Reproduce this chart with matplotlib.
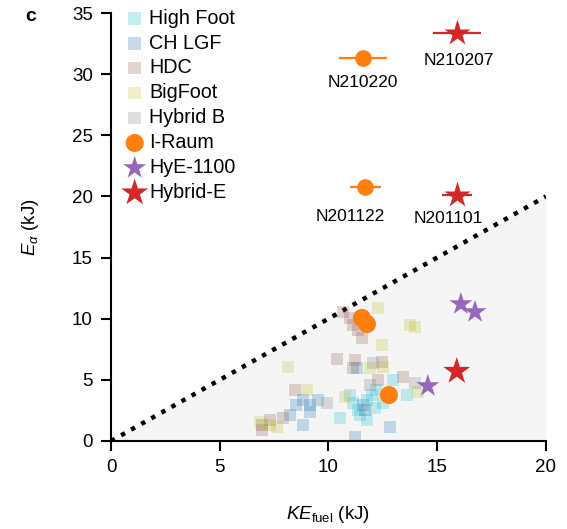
import matplotlib
matplotlib.use("Agg")
import matplotlib.pyplot as plt
import numpy as np

plt.rcParams['font.family'] = ['Liberation Sans', 'DejaVu Sans']
plt.rcParams['mathtext.fontset'] = 'custom'
plt.rcParams['mathtext.rm'] = 'Liberation Sans'
plt.rcParams['mathtext.it'] = 'Liberation Sans:italic'
plt.rcParams['mathtext.bf'] = 'Liberation Sans:bold'

# Earlier campaigns (KE_fuel, E_alpha) in kJ
highfoot_x = [10.53, 11.13, 11.36, 11.77, 12.18, 12.51, 11.77, 12.97, 13.61, 11.0, 11.45, 12.0, 12.14]
highfoot_y = [1.88, 3.11, 2.53, 3.35, 4.17, 3.11, 1.72, 4.99, 3.76, 3.76, 2.13, 3.76, 2.70]

chlgf_x = [8.83, 9.15, 9.52, 8.51, 9.15, 8.83, 8.23, 11.22, 12.83, 11.31, 11.59, 11.68]
chlgf_y = [3.35, 2.94, 3.35, 2.94, 2.37, 1.31, 2.13, 0.33, 1.14, 5.97, 2.94, 2.53]

hdc_x = [10.67, 10.99, 11.13, 11.36, 11.54, 10.39, 11.22, 11.13, 12.46, 13.43, 8.46, 7.91, 7.31, 6.94, 6.94, 12.28]
hdc_y = [10.55, 10.06, 9.48, 9.08, 8.42, 6.70, 6.62, 5.97, 6.46, 5.23, 4.17, 1.88, 1.72, 1.31, 0.90, 4.99]

bigfoot_x = [12.28, 13.75, 13.98, 12.46, 8.14, 11.91, 12.51, 9.01, 10.76, 7.63, 6.85, 14.11, 7.31]
bigfoot_y = [10.87, 9.48, 9.32, 7.85, 6.05, 5.97, 6.05, 4.17, 3.60, 1.14, 1.55, 4.00, 1.31]

hybridb_x = [9.93, 12.05, 13.98, 11.91]
hybridb_y = [3.11, 6.38, 4.74, 4.58]

# Recent shots
iraum_x = [11.54, 11.77, 12.78]
iraum_y = [10.06, 9.57, 3.76]

hye1100_x = [16.09, 16.74, 14.57]
hye1100_y = [11.2, 10.55, 4.5]

hybride_x = [15.9]
hybride_y = [5.7]

# Named shots with horizontal uncertainty
named_shots = ['N210220', 'N210207', 'N201122', 'N201101']
named_design = ['I-Raum', 'Hybrid-E', 'I-Raum', 'Hybrid-E']
named_x = [11.6, 15.9, 11.7, 15.9]
named_y = [31.3, 33.4, 20.8, 20.1]
named_xerr = [1.1, 1.1, 0.7, 0.7]

c_hf, c_ch, c_hdc, c_bf, c_hb = '#17becf', '#1f77b4', '#8c564b', '#bcbd22', '#7f7f7f'
c_ir, c_hye, c_he = '#ff7f0e', '#9467bd', '#d62728'

fig = plt.figure(figsize=(5.67, 5.29), dpi=100)
ax = fig.add_axes([0.1958, 0.1664, 0.767, 0.809])

# Region below E_alpha = KE_fuel
xs = np.array([0, 20])
ax.fill_between(xs, 0, xs, color='#f5f5f5', zorder=0, lw=0)
ax.plot(xs, xs, color='black', ls=(0, (1, 1.6)), lw=3.2, zorder=1)

sq = dict(marker='s', s=80, alpha=0.25, edgecolors='none', zorder=2)
ax.scatter(highfoot_x, highfoot_y, color=c_hf, label='High Foot', **sq)
ax.scatter(chlgf_x, chlgf_y, color=c_ch, label='CH LGF', **sq)
ax.scatter(hdc_x, hdc_y, color=c_hdc, label='HDC', **sq)
ax.scatter(bigfoot_x, bigfoot_y, color=c_bf, label='BigFoot', **sq)
ax.scatter(hybridb_x, hybridb_y, color=c_hb, label='Hybrid B', **sq)
ax.scatter(iraum_x, iraum_y, color=c_ir, marker='o', s=170, edgecolors='none', label='I-Raum', zorder=4)
ax.scatter(hye1100_x, hye1100_y, color=c_hye, marker='*', s=300, edgecolors='none', label='HyE-1100', zorder=4)
ax.scatter(hybride_x, hybride_y, color=c_he, marker='*', s=420, edgecolors='none', label='Hybrid-E', zorder=4)

for name, design, x, y, xe in zip(named_shots, named_design, named_x, named_y, named_xerr):
    if design == 'I-Raum':
        col, mk, ms = c_ir, 'o', 12
    else:
        col, mk, ms = c_he, '*', 20
    ax.errorbar([x], [y], xerr=[xe], color=col, marker=mk, ms=ms, mec='none',
                lw=1.6, capsize=0, zorder=5)

lab_fs = 12.5
ax.text(11.6, 29.9, 'N210220', ha='center', va='top', fontsize=lab_fs)
ax.text(16.0, 31.7, 'N210207', ha='center', va='top', fontsize=lab_fs)
ax.text(11.0, 19.0, 'N201122', ha='center', va='top', fontsize=lab_fs)
ax.text(15.5, 18.8, 'N201101', ha='center', va='top', fontsize=lab_fs)

ax.set_xlim(0, 20)
ax.set_ylim(0, 35)
ax.set_xticks([0, 5, 10, 15, 20])
ax.set_yticks([0, 5, 10, 15, 20, 25, 30, 35])
ax.spines['top'].set_visible(False)
ax.spines['right'].set_visible(False)
for s in ('left', 'bottom'):
    ax.spines[s].set_linewidth(1.5)
ax.tick_params(direction='out', length=7, width=1.5, labelsize=13.5, pad=6)

ax.set_xlabel(r'$KE_{\mathrm{fuel}}$ (kJ)', fontsize=13.5, labelpad=20)
ax.set_ylabel(r'$E_{\alpha}$ (kJ)', fontsize=13.5, labelpad=22)

leg = ax.legend(loc='upper left', bbox_to_anchor=(0.0, 1.038), frameon=False, fontsize=14.2,
                handletextpad=0.15, labelspacing=0.3, borderaxespad=0.2, handlelength=1.2)

fig.text(0.055, 0.968, 'c', fontsize=14, fontweight='bold', ha='center', va='center')

fig.savefig('out.png', dpi=100)
